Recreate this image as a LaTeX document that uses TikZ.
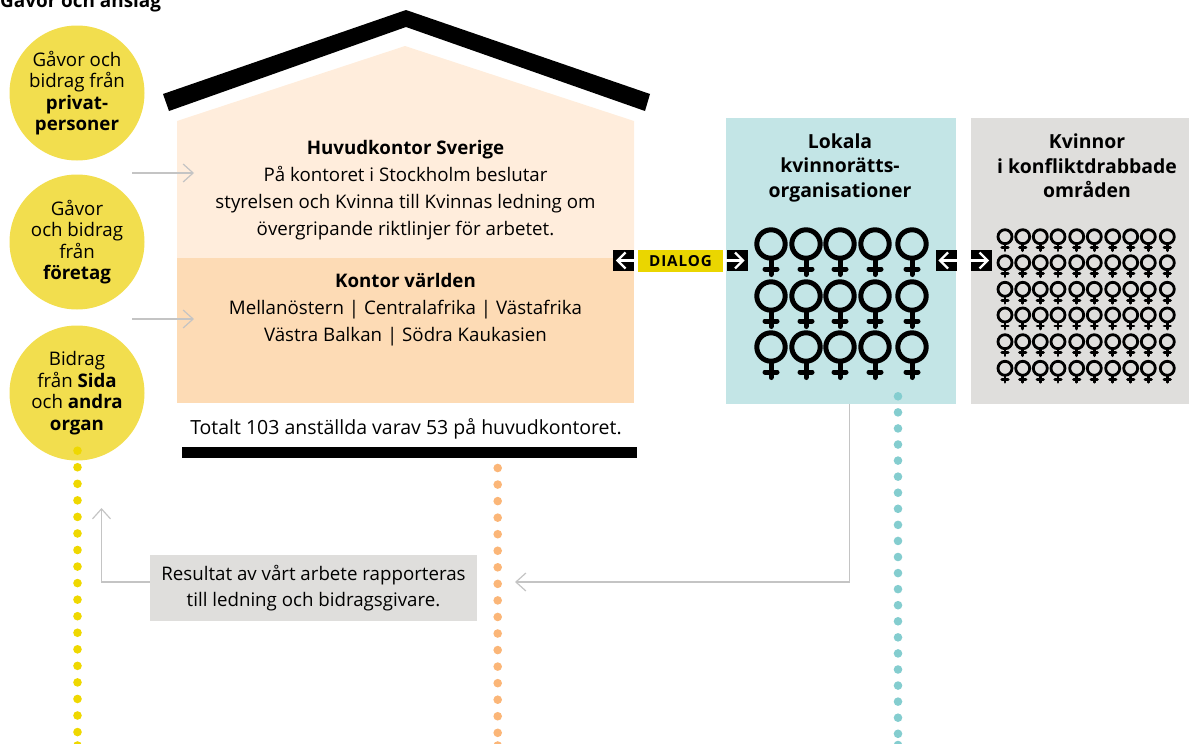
\documentclass[tikz,border=0pt]{standalone}
\usepackage{fontspec}
\setmainfont{Open Sans}
\usetikzlibrary{arrows.meta}
\definecolor{housetop}{HTML}{FFEDDC}
\definecolor{housebottom}{HTML}{FDDBB5}
\definecolor{giftyellow}{HTML}{F2DE4E}
\definecolor{dialogyellow}{HTML}{EAD600}
\definecolor{orgblue}{HTML}{C3E5E6}
\definecolor{womengrey}{HTML}{DFDEDC}
\definecolor{linegrey}{HTML}{C4C4C4}
\definecolor{dotyellow}{HTML}{EFD800}
\definecolor{dotorange}{HTML}{FBB678}
\definecolor{dotblue}{HTML}{84CDCF}
\tikzset{
  bodytext/.style={font=\fontsize{18.7}{27}\selectfont,align=center,inner sep=0pt},
  headtext/.style={font=\fontsize{19.4}{24.5}\selectfont\bfseries,align=center,inner sep=0pt},
  giftcircle/.style={circle,fill=giftyellow,minimum size=135pt,inner sep=0pt,align=center,font=\fontsize{18.7}{21.5}\selectfont},
  colbox/.style={minimum height=286pt,inner sep=0pt},
  arrowbox/.style={fill=black,minimum width=21pt,minimum height=21pt,inner sep=0pt},
  whitearrow/.style={white,line width=2.4pt,-{Straight Barb[length=8pt,width=16pt]}},
  greyarrow/.style={linegrey,line width=1.2pt,-{Straight Barb[length=10pt,width=18pt]}},
  dotline/.style={line width=8.6pt,line cap=round,dash pattern=on 0pt off #1},
  bigvenus/.pic={
    \draw[line width=5pt] (0,0) circle (14.2);
    \draw[line width=5pt,line cap=round] (0,16) -- (0,30.5) (-6,25) -- (6,25);
  },
  smallvenus/.pic={
    \draw[line width=2.8pt] (0,0) circle (7);
    \draw[line width=2.8pt,line cap=round] (0,8) -- (0,14) (-3.2,11) -- (3.2,11);
  }
}
\begin{document}
\begin{tikzpicture}[x=1pt,y=-1pt]
\useasboundingbox (0,0) rectangle (1189,744);

% house
\fill[housetop] (177,121) -- (405,46) -- (634,121) -- (634,258) -- (177,258) -- cycle;
\fill[housebottom] (177,258) rectangle (634,403);
\fill[black] (163,94) -- (406,10) -- (650,94) -- (645,111) -- (406,27) -- (169,111) -- cycle;
\fill[black] (182,447) rectangle (637,458);

\node[anchor=base west,inner sep=0pt,font=\fontsize{18.9}{18}\selectfont\bfseries] (title) at (0,7) {Gåvor och anslag};

\node[giftcircle] (privat) at (77,93) {Gåvor och\\bidrag från\\\textbf{privat-}\\\textbf{personer}};
\node[giftcircle] (foretag) at (77,242) {Gåvor\\och bidrag\\från\\\textbf{företag}};
\node[giftcircle] (sida) at (77,393) {Bidrag\\från \textbf{Sida}\\och \textbf{andra}\\\textbf{organ}};

\node[bodytext] (hq) at (405.5,190) {\textbf{Huvudkontor Sverige}\\På kontoret i Stockholm beslutar\\styrelsen och Kvinna till Kvinnas ledning om\\övergripande riktlinjer för arbetet.};
\node[bodytext] (world) at (405.5,310) {\textbf{Kontor världen}\\Mellanöstern | Centralafrika | Västafrika\\Västra Balkan | Södra Kaukasien};
\node[bodytext,font=\fontsize{19.5}{27}\selectfont] (staff) at (406,429) {Totalt 103 anställda varav 53 på huvudkontoret.};

\node[colbox,fill=orgblue,minimum width=230pt] (org) at (841,261) {};
\node[colbox,fill=womengrey,minimum width=217.5pt] (women) at (1079.75,261) {};
\node[headtext] (orgtext) at (840,167.5) {Lokala\\kvinnorätts-\\organisationer};
\node[headtext] (womentext) at (1087,166) {Kvinnor\\i konfliktdrabbade\\områden};

\foreach \x in {771,806,840,875,912}
  \foreach \y in {244,296,347}
    \pic at (\x,\y) {bigvenus};
\foreach \x in {1005,1022.7,1040.3,1058,1076.7,1094.3,1112.7,1130.7,1148.3,1167.3}
  \foreach \y in {236.7,262.7,289.3,315,341.7,368.3}
    \pic at (\x,\y) {smallvenus};

% dialog row
\node[fill=dialogyellow,minimum width=85pt,minimum height=22pt,inner sep=0pt,font=\fontsize{15.2}{15}\selectfont\bfseries\addfontfeature{LetterSpace=6}] (dialog) at (680.5,261) {DIALOG};
\node[arrowbox] (dialogl) at (623.5,260.5) {};
\node[arrowbox] (dialogr) at (737,260.5) {};
\node[arrowbox] (womenl) at (946,260.5) {};
\node[arrowbox] (womenr) at (981.5,260.5) {};
\draw[whitearrow] (dialogl.east) -- ([xshift=3pt]dialogl.west);
\draw[whitearrow] (dialogr.west) -- ([xshift=-3pt]dialogr.east);
\draw[whitearrow] (womenl.east) -- ([xshift=3pt]womenl.west);
\draw[whitearrow] (womenr.west) -- ([xshift=-3pt]womenr.east);

% grey connectors
\coordinate (giftend) at (194,173);
\coordinate (giftstart) at (132,173);
\coordinate (sidaend) at (194,319);
\coordinate (sidastart) at (132,319);
\draw[greyarrow] (giftstart) -- (giftend);
\draw[greyarrow] (sidastart) -- (sidaend);

\node[fill=womengrey,minimum width=327pt,minimum height=66pt,inner sep=0pt,align=center,font=\fontsize{18.7}{26.5}\selectfont] (report) at (313.5,588) {Resultat av vårt arbete rapporteras\\till ledning och bidragsgivare.};
\coordinate (upend) at (101.5,508);
\coordinate (reportw) at (report.west |- 0,582);
\coordinate (orgdown) at (849.5,404);
\coordinate (leftend) at (515,582);
\draw[greyarrow] (reportw) -| (upend);
\draw[greyarrow] (orgdown) |- (leftend);

% dotted lines
\coordinate (yellowa) at (77.5,450.7);
\coordinate (yellowb) at (77.5,745.5);
\coordinate (orangea) at (497.7,468);
\coordinate (orangeb) at (497.7,745.5);
\coordinate (bluea) at (898,396.3);
\coordinate (blueb) at (898,745);
\draw[dotline=16.55pt,dotyellow] (yellowa) -- (yellowb);
\draw[dotline=16.55pt,dotorange] (orangea) -- (orangeb);
\draw[dotline=16.07pt,dotblue] (bluea) -- (blueb);
\fill[dotyellow] (yellowb) circle (4.3);
\fill[dotorange] (orangeb) circle (4.3);
\fill[dotblue] (blueb) circle (4.3);
\end{tikzpicture}
\end{document}
